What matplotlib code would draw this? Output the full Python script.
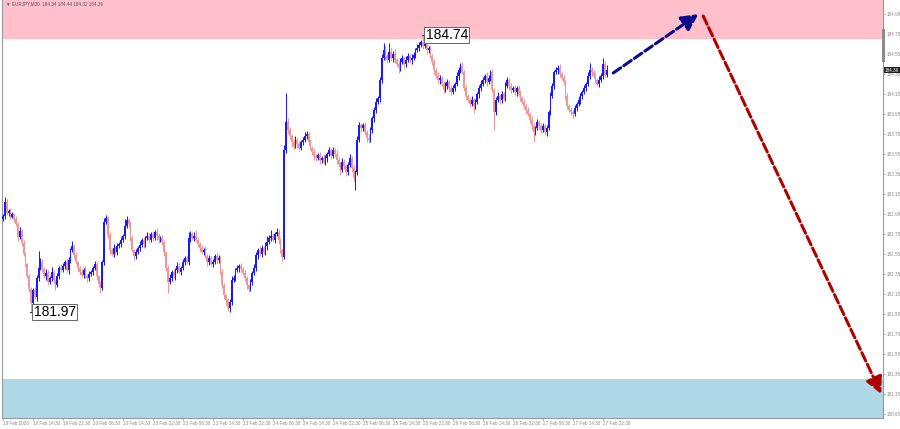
import numpy as np
import matplotlib
matplotlib.use('Agg')
import matplotlib.pyplot as plt

# EURJPY M30, 19 Feb 06:30 -> 27 Feb 23:30
first_open = 182.90
closes = [
    182.93, 183.07, 182.96, 182.98, 182.92, 182.95, 182.90, 182.85, 182.72, 182.78, 182.66, 182.55, 182.45, 182.33, 182.20, 182.06,
    182.19, 182.12, 182.31, 182.41, 182.47, 182.40, 182.33, 182.36, 182.27, 182.31, 182.37, 182.29, 182.24, 182.33, 182.41, 182.39,
    182.43, 182.47, 182.39, 182.49, 182.59, 182.63, 182.54, 182.47, 182.41, 182.37, 182.34, 182.39, 182.33, 182.31, 182.35, 182.37,
    182.41, 182.45, 182.33, 182.25, 182.21, 182.47, 182.87, 182.91, 182.74, 182.59, 182.55, 182.61, 182.57, 182.63, 182.65, 182.69,
    182.73, 182.83, 182.89, 182.85, 182.71, 182.59, 182.53, 182.57, 182.61, 182.64, 182.69, 182.65, 182.71, 182.73, 182.69, 182.75,
    182.71, 182.77, 182.73, 182.69, 182.71, 182.67, 182.57, 182.41, 182.27, 182.31, 182.37, 182.33, 182.39, 182.43, 182.37, 182.41,
    182.47, 182.51, 182.47, 182.71, 182.75, 182.71, 182.73, 182.69, 182.65, 182.61, 182.57, 182.59, 182.53, 182.47, 182.51, 182.45,
    182.47, 182.53, 182.49, 182.51, 182.37, 182.24, 182.14, 182.09, 182.01, 182.07, 182.29, 182.31, 182.39, 182.41, 182.43, 182.40,
    182.36, 182.31, 182.24, 182.20, 182.27, 182.36, 182.41, 182.54, 182.59, 182.55, 182.61, 182.57, 182.63, 182.67, 182.71, 182.73,
    182.69, 182.75, 182.77, 182.69, 182.59, 182.52, 183.59, 183.87, 183.79, 183.73, 183.67, 183.63, 183.69, 183.65, 183.61, 183.67,
    183.69, 183.73, 183.75, 183.67, 183.61, 183.57, 183.53, 183.51, 183.54, 183.49, 183.51, 183.47, 183.51, 183.55, 183.59, 183.53,
    183.59, 183.55, 183.49, 183.45, 183.39, 183.47, 183.43, 183.37, 183.44, 183.51, 183.41, 183.31, 183.37, 183.69, 183.84, 183.81,
    183.84, 183.77, 183.71, 183.69, 183.79, 183.91, 183.99, 184.07, 184.11, 184.29, 184.51, 184.59, 184.53, 184.49, 184.57, 184.51,
    184.55, 184.49, 184.45, 184.41, 184.47, 184.51, 184.45, 184.49, 184.53, 184.49, 184.51, 184.54, 184.59, 184.61, 184.64, 184.67,
    184.63, 184.65, 184.59, 184.61, 184.53, 184.47, 184.39, 184.33, 184.29, 184.31, 184.25, 184.19, 184.23, 184.27, 184.21, 184.17,
    184.21, 184.25, 184.33, 184.39, 184.43, 184.37, 184.21, 184.13, 184.09, 184.05, 184.09, 184.03, 184.07, 184.15, 184.21, 184.25,
    184.29, 184.33, 184.27, 184.31, 184.37, 184.19, 183.97, 184.09, 184.13, 184.09, 184.15, 184.11, 184.23, 184.29, 184.23, 184.19,
    184.21, 184.17, 184.21, 184.15, 184.11, 184.07, 184.03, 183.99, 183.95, 183.89, 183.83, 183.77, 183.81, 183.87, 183.83, 183.79,
    183.83, 183.77, 183.81, 183.97, 184.13, 184.23, 184.37, 184.39, 184.41, 184.35, 184.31, 184.27, 184.13, 184.03, 183.99, 183.97,
    183.95, 184.01, 184.05, 184.09, 184.13, 184.17, 184.21, 184.25, 184.33, 184.39, 184.37, 184.33, 184.29, 184.25, 184.29, 184.33,
    184.45, 184.34, 184.39,
]
# wick lengths above / below the body, in pips (0.01 for JPY)
upper_wick = [
    2, 5, 3, 2, 3, 2, 1, 3, 2, 4, 2, 3, 2, 1, 2, 2,
    2, 3, 3, 17, 4, 3, 2, 4, 3, 2, 5, 2, 1, 3, 2, 4,
    3, 2, 4, 3, 2, 5, 2, 3, 1, 2, 3, 2, 4, 2, 3, 2,
    2, 3, 2, 1, 3, 2, 4, 3, 2, 3, 2, 4, 2, 3, 2, 3,
    2, 7, 4, 2, 3, 2, 1, 3, 2, 4, 2, 3, 2, 4, 3, 2,
    3, 2, 4, 3, 2, 3, 2, 1, 3, 4, 2, 3, 2, 4, 3, 2,
    3, 2, 3, 6, 3, 2, 4, 6, 3, 2, 3, 2, 4, 2, 3, 2,
    3, 2, 4, 3, 2, 3, 2, 1, 2, 3, 4, 3, 2, 3, 2, 3,
    2, 3, 2, 1, 3, 2, 4, 3, 2, 4, 3, 2, 4, 6, 3, 6,
    3, 2, 4, 3, 2, 2, 5, 29, 4, 3, 2, 3, 4, 2, 3, 2,
    3, 4, 3, 2, 3, 2, 4, 3, 2, 3, 2, 4, 3, 2, 3, 2,
    3, 2, 4, 3, 2, 4, 3, 2, 3, 4, 2, 3, 2, 4, 3, 2,
    2, 3, 2, 4, 3, 2, 3, 4, 2, 3, 4, 7, 4, 3, 9, 4,
    3, 5, 2, 3, 4, 3, 2, 4, 3, 2, 4, 3, 2, 4, 3, 2,
    7, 3, 4, 2, 3, 2, 3, 2, 4, 3, 2, 3, 4, 3, 2, 3,
    3, 2, 4, 3, 3, 4, 2, 3, 2, 3, 4, 2, 3, 2, 3, 4,
    3, 2, 4, 3, 2, 3, 2, 3, 4, 2, 3, 2, 4, 3, 2, 3,
    2, 3, 2, 3, 4, 2, 3, 2, 3, 2, 4, 3, 2, 3, 2, 3,
    3, 2, 3, 2, 4, 3, 2, 3, 3, 4, 2, 3, 2, 3, 2, 3,
    2, 3, 2, 4, 3, 2, 3, 2, 4, 7, 3, 2, 3, 2, 4, 3,
    6, 3, 5,
]
lower_wick = [
    2, 3, 2, 3, 2, 1, 3, 2, 4, 2, 3, 2, 3, 2, 3, 9,
    3, 2, 4, 3, 2, 3, 2, 4, 3, 2, 3, 4, 5, 2, 3, 2,
    2, 3, 2, 4, 3, 2, 3, 2, 4, 3, 2, 3, 2, 4, 3, 2,
    3, 2, 4, 3, 5, 2, 3, 2, 3, 4, 2, 3, 2, 3, 2, 3,
    2, 3, 2, 4, 3, 2, 4, 3, 2, 3, 2, 4, 3, 2, 3, 2,
    3, 2, 4, 3, 2, 3, 4, 3, 11, 2, 3, 2, 4, 3, 2, 3,
    2, 3, 2, 3, 4, 2, 3, 2, 3, 4, 2, 3, 2, 4, 3, 2,
    3, 2, 4, 3, 2, 3, 4, 5, 3, 4, 3, 2, 3, 2, 4, 3,
    2, 3, 4, 3, 2, 3, 2, 3, 4, 2, 3, 2, 3, 4, 2, 3,
    2, 3, 2, 4, 3, 4, 2, 3, 4, 3, 5, 3, 2, 4, 3, 2,
    3, 2, 3, 4, 2, 3, 4, 3, 2, 4, 3, 2, 3, 4, 2, 3,
    2, 3, 4, 3, 5, 2, 3, 4, 3, 2, 4, 3, 12, 3, 2, 4,
    3, 2, 4, 3, 2, 3, 4, 3, 2, 4, 3, 2, 4, 3, 2, 3,
    4, 3, 2, 5, 3, 2, 4, 3, 2, 3, 4, 2, 3, 2, 3, 2,
    3, 2, 4, 3, 2, 3, 4, 2, 3, 4, 2, 3, 2, 3, 4, 3,
    2, 3, 2, 4, 3, 2, 3, 4, 2, 3, 2, 7, 3, 2, 4, 3,
    2, 3, 4, 2, 3, 2, 18, 3, 2, 4, 3, 2, 3, 2, 4, 3,
    2, 3, 4, 2, 3, 2, 3, 4, 2, 3, 4, 10, 3, 2, 4, 3,
    2, 3, 4, 2, 3, 2, 3, 2, 4, 3, 2, 3, 4, 3, 2, 3,
    4, 2, 3, 2, 4, 3, 2, 3, 2, 3, 4, 2, 3, 2, 3, 2,
    3, 2, 2,
]
time_labels = ['19 Feb 2026', '19 Feb 14:30', '19 Feb 22:30', '20 Feb 06:30', '20 Feb 14:30',
               '20 Feb 22:30', '23 Feb 06:30', '23 Feb 14:30', '23 Feb 22:30', '24 Feb 06:30',
               '24 Feb 14:30', '24 Feb 22:30', '25 Feb 06:30', '25 Feb 14:30', '25 Feb 22:30',
               '26 Feb 06:30', '26 Feb 14:30', '26 Feb 22:30', '27 Feb 06:30', '27 Feb 14:30',
               '27 Feb 22:30']
bars_per_label = 16

resistance_zone = (184.70, 185.20)
support_zone = (180.80, 181.30)

# forecast legs (bar index, price)
up_leg_x, up_leg_y = [325.5, 371.0], [184.36, 184.95]
down_leg_x, down_leg_y = [373.5, 468.5], [184.93, 181.15]

title = '\u25bc EURJPY,M30  184.34 184.44 184.32 184.39'
pip = 0.01
bull = '#1a1aff'
bear = '#f29595'
small = dict(family='Liberation Sans', size=3.3)

closes = np.array(closes)
opens = np.r_[first_open, closes[:-1]]
highs = np.maximum(opens, closes) + np.array(upper_wick) * pip
lows = np.minimum(opens, closes) - np.array(lower_wick) * pip
idx = np.arange(len(closes))
cols = np.where(closes >= opens, bull, bear)

fig = plt.figure(figsize=(9, 4.29), dpi=100)
ax = fig.add_axes([2/900, 11/429, 881/900, 418/429])

ax.axhspan(*resistance_zone, color='#ffc0cb', lw=0, zorder=0)
ax.axhspan(*support_zone, color='#add8e6', lw=0, zorder=0)

ax.vlines(idx, lows, highs, colors=cols, lw=0.75, zorder=3)
ax.bar(idx, np.maximum(np.abs(closes - opens), 0.006), bottom=np.minimum(opens, closes),
       width=0.95, color=cols, lw=0, zorder=4)

# high / low price tags
for i, val in [(int(np.argmax(highs)), highs.max()), (int(np.argmin(lows)), lows.min())]:
    ax.plot([i - 0.5, i + 1.2], [val, val], color='#333333', lw=0.7, zorder=5)
    ax.text(i + 1.4, val, f'{val:.2f}', fontsize=10, family='Liberation Sans', va='center', ha='left',
            zorder=6, bbox=dict(fc='white', ec='#666666', lw=0.7, pad=1.0))

# forecast arrows
for xs, ys, c in [(up_leg_x, up_leg_y, '#0a0a8c'), (down_leg_x, down_leg_y, '#b00000')]:
    ax.annotate('', xy=(xs[1], ys[1]), xytext=(xs[0], ys[0]), annotation_clip=False,
                arrowprops=dict(arrowstyle='-|>,head_length=1.0,head_width=0.5', color=c, lw=2.2,
                                linestyle=(0, (3, 1.2)), shrinkA=0, shrinkB=0, mutation_scale=10),
                zorder=7)

ax.set_xlim(-0.5, 469.4)
ax.set_ylim(180.91, 185.09)

ax.yaxis.tick_right()
yt = np.arange(180.95, 185.0, 0.2)
ax.set_yticks(yt)
ax.set_yticklabels([f'{v:.2f}' for v in yt], fontdict=small)
ax.set_xticks(np.arange(len(time_labels)) * bars_per_label)
ax.set_xticklabels(time_labels, ha='left', fontdict=small)
ax.tick_params(axis='both', colors='#8a8a8a', length=1.5, width=0.5, pad=0.8)

for s in ['left', 'right', 'bottom']:
    ax.spines[s].set_color('#9a9a9a')
    ax.spines[s].set_linewidth(0.8)
ax.spines['top'].set_visible(False)

ax.text(0.004, 0.997, title, transform=ax.transAxes, color='#555555', va='top', ha='left', **small)

# current price tag and the grey marker on the price scale
ax.text(1.002, closes[-1], f'{closes[-1]:.2f}', transform=ax.get_yaxis_transform(),
        color='white', va='center', ha='left', bbox=dict(fc='#222222', ec='none', pad=0.6),
        clip_on=False, **small)
ax.plot([1, 1], [184.49, 184.79], transform=ax.get_yaxis_transform(), color='#8a8a8a', lw=2.2,
        clip_on=False, zorder=8)

fig.savefig('out.png', dpi=100)
